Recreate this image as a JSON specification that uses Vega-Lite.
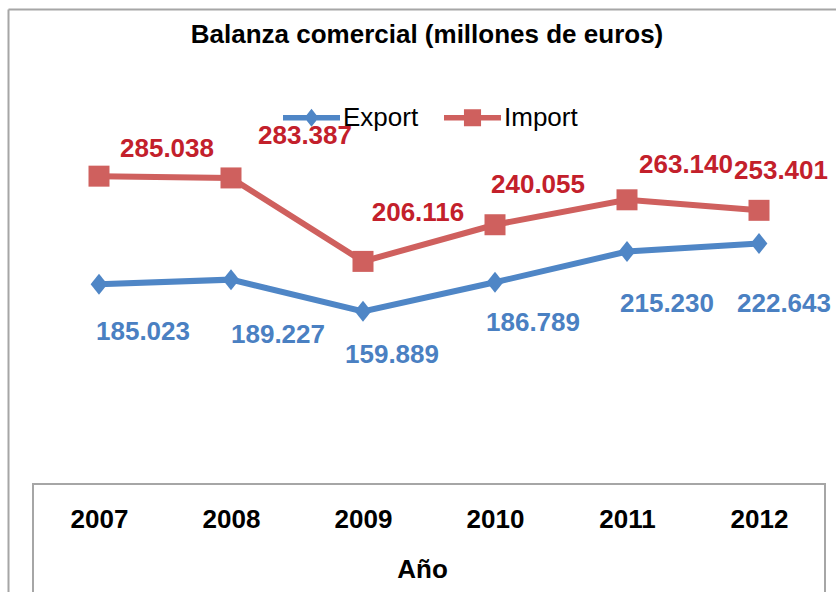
{
  "$schema": "https://vega.github.io/schema/vega-lite/v6.json",
  "width": 828,
  "height": 583,
  "padding": {"left": 8, "top": 9, "right": 0, "bottom": 0},
  "autosize": {"type": "none"},
  "background": "white",
  "config": {
    "view": {"stroke": null},
    "font": "Liberation Sans",
    "text": {"font": "Liberation Sans", "fontSize": 26, "fontWeight": "bold", "align": "center", "baseline": "middle"},
    "locale": {"number": {"decimal": ",", "thousands": ".", "grouping": [3], "currency": ["", " €"]}}
  },
  "title": {
    "text": "Balanza comercial (millones de euros)",
    "frame": "group",
    "anchor": "middle",
    "orient": "top",
    "offset": -33,
    "baseline": "alphabetic",
    "font": "Liberation Sans",
    "fontSize": 26,
    "fontWeight": "bold",
    "color": "black",
    "dx": 5,
    "dy": 27
  },
  "data": {
    "values": [
      {"year": 2007, "series": "Export", "value": 185023},
      {"year": 2008, "series": "Export", "value": 189227},
      {"year": 2009, "series": "Export", "value": 159889},
      {"year": 2010, "series": "Export", "value": 186789},
      {"year": 2011, "series": "Export", "value": 215230},
      {"year": 2012, "series": "Export", "value": 222643},
      {"year": 2007, "series": "Import", "value": 285038},
      {"year": 2008, "series": "Import", "value": 283387},
      {"year": 2009, "series": "Import", "value": 206116},
      {"year": 2010, "series": "Import", "value": 240055},
      {"year": 2011, "series": "Import", "value": 263140},
      {"year": 2012, "series": "Import", "value": 253401}
    ]
  },
  "resolve": {"axis": {"x": "independent", "y": "independent"}},
  "layer": [
    {
      "data": {"values": [{}]},
      "mark": {"type": "rect", "fill": "transparent", "stroke": "#a6a6a6", "strokeWidth": 2},
      "encoding": {
        "x": {"datum": 2006.5, "type": "quantitative", "scale": {"domain": [2006.3106, 2012.5833], "nice": false, "zero": false}, "axis": null},
        "x2": {"datum": 2012.5},
        "y": {"datum": 0, "type": "quantitative", "scale": {"domain": [-100000, 439810], "nice": false, "zero": false}, "axis": null},
        "y2": {"datum": -110000}
      }
    },
    {
      "mark": {"type": "line", "strokeWidth": 6},
      "encoding": {
        "x": {
          "field": "year", "type": "quantitative",
          "scale": {"domain": [2006.3106, 2012.5833], "nice": false, "zero": false},
          "axis": {
            "orient": "bottom", "offset": -108,
            "values": [2007, 2008, 2009, 2010, 2011, 2012],
            "format": "d",
            "domain": false, "ticks": false, "tickSize": 0, "grid": false,
            "labelFont": "Liberation Sans", "labelFontSize": 26, "labelFontWeight": "bold", "labelColor": "black",
            "labelPadding": 22, "labelFlush": false, "labelOverlap": false,
            "title": "Año", "titleFont": "Liberation Sans", "titleFontSize": 26, "titleFontWeight": "bold", "titleColor": "black",
            "titlePadding": 24
          }
        },
        "y": {
          "field": "value", "type": "quantitative",
          "scale": {"domain": [-100000, 439810], "nice": false, "zero": false},
          "axis": {"orient": "left", "domain": true, "domainColor": "#a6a6a6", "domainWidth": 2, "ticks": false, "labels": false, "grid": false, "title": null}
        },
        "color": {
          "field": "series", "type": "nominal",
          "scale": {"domain": ["Export", "Import"], "range": ["#4f86c6", "#cf605e"]},
          "legend": {
            "orient": "none", "legendX": 275, "legendY": 80, "direction": "horizontal",
            "title": null, "padding": 0, "columnPadding": 25, "labelOffset": 3,
            "symbolSize": 3249, "symbolStrokeWidth": 0,
            "labelFont": "Liberation Sans", "labelFontSize": 26, "labelColor": "black", "labelFontWeight": "normal",
            "encode": {
              "symbols": {
                "update": {
                  "shape": {"signal": "datum.value === 'Export' ? 'M-1,-0.1L-0.172,-0.1L0,-0.32L0.172,-0.1L1,-0.1L1,0.1L0.172,0.1L0,0.32L-0.172,0.1L-1,0.1Z' : 'M-1,-0.1L-0.3,-0.1L-0.3,-0.3L0.3,-0.3L0.3,-0.1L1,-0.1L1,0.1L0.3,0.1L0.3,0.3L-0.3,0.3L-0.3,0.1L-1,0.1Z'"},
                  "fill": {"signal": "scale('color', datum.value)"},
                  "stroke": {"value": "transparent"},
                  "strokeWidth": {"value": 0},
                  "size": {"value": 3249},
                  "opacity": {"value": 1}
                }
              }
            }
          }
        }
      }
    },
    {
      "transform": [{"filter": "datum.series === 'Export'"}],
      "mark": {"type": "point", "filled": true, "opacity": 1, "size": 441, "strokeWidth": 0, "shape": "M0,-1L0.8,0L0,1L-0.8,0Z", "color": "#4f86c6"},
      "encoding": {
        "x": {
          "field": "year", "type": "quantitative",
          "scale": {"domain": [2006.3106, 2012.5833], "nice": false, "zero": false},
          "axis": {"orient": "top", "domain": true, "domainColor": "#a6a6a6", "domainWidth": 2, "ticks": false, "labels": false, "grid": false, "title": null}
        },
        "y": {"field": "value", "type": "quantitative", "scale": {"domain": [-100000, 439810], "nice": false, "zero": false}, "axis": null}
      }
    },
    {
      "transform": [{"filter": "datum.series === 'Import'"}],
      "mark": {"type": "point", "filled": true, "opacity": 1, "size": 441, "strokeWidth": 0, "shape": "square", "color": "#cf605e"},
      "encoding": {
        "x": {"field": "year", "type": "quantitative", "scale": {"domain": [2006.3106, 2012.5833], "nice": false, "zero": false}, "axis": null},
        "y": {"field": "value", "type": "quantitative", "scale": {"domain": [-100000, 439810], "nice": false, "zero": false}, "axis": null}
      }
    },
    {"transform": [{"filter": "datum.series === 'Export' && datum.year === 2007"}], "mark": {"type": "text", "dx": 44, "dy": 48, "fill": "#4a80c2"}, "encoding": {"x": {"field": "year", "type": "quantitative", "axis": null}, "y": {"field": "value", "type": "quantitative", "axis": null}, "text": {"field": "value", "type": "quantitative", "format": ",.0f"}}},
    {"transform": [{"filter": "datum.series === 'Export' && datum.year === 2008"}], "mark": {"type": "text", "dx": 47, "dy": 55, "fill": "#4a80c2"}, "encoding": {"x": {"field": "year", "type": "quantitative", "axis": null}, "y": {"field": "value", "type": "quantitative", "axis": null}, "text": {"field": "value", "type": "quantitative", "format": ",.0f"}}},
    {"transform": [{"filter": "datum.series === 'Export' && datum.year === 2009"}], "mark": {"type": "text", "dx": 29, "dy": 44, "fill": "#4a80c2"}, "encoding": {"x": {"field": "year", "type": "quantitative", "axis": null}, "y": {"field": "value", "type": "quantitative", "axis": null}, "text": {"field": "value", "type": "quantitative", "format": ",.0f"}}},
    {"transform": [{"filter": "datum.series === 'Export' && datum.year === 2010"}], "mark": {"type": "text", "dx": 38, "dy": 41, "fill": "#4a80c2"}, "encoding": {"x": {"field": "year", "type": "quantitative", "axis": null}, "y": {"field": "value", "type": "quantitative", "axis": null}, "text": {"field": "value", "type": "quantitative", "format": ",.0f"}}},
    {"transform": [{"filter": "datum.series === 'Export' && datum.year === 2011"}], "mark": {"type": "text", "dx": 40, "dy": 52, "fill": "#4a80c2"}, "encoding": {"x": {"field": "year", "type": "quantitative", "axis": null}, "y": {"field": "value", "type": "quantitative", "axis": null}, "text": {"field": "value", "type": "quantitative", "format": ",.0f"}}},
    {"transform": [{"filter": "datum.series === 'Export' && datum.year === 2012"}], "mark": {"type": "text", "dx": 25, "dy": 60, "fill": "#4a80c2"}, "encoding": {"x": {"field": "year", "type": "quantitative", "axis": null}, "y": {"field": "value", "type": "quantitative", "axis": null}, "text": {"field": "value", "type": "quantitative", "format": ",.0f"}}},
    {"transform": [{"filter": "datum.series === 'Import' && datum.year === 2007"}], "mark": {"type": "text", "dx": 68, "dy": -27, "fill": "#c3202b"}, "encoding": {"x": {"field": "year", "type": "quantitative", "axis": null}, "y": {"field": "value", "type": "quantitative", "axis": null}, "text": {"field": "value", "type": "quantitative", "format": ",.0f"}}},
    {"transform": [{"filter": "datum.series === 'Import' && datum.year === 2008"}], "mark": {"type": "text", "dx": 74, "dy": -42, "fill": "#c3202b"}, "encoding": {"x": {"field": "year", "type": "quantitative", "axis": null}, "y": {"field": "value", "type": "quantitative", "axis": null}, "text": {"field": "value", "type": "quantitative", "format": ",.0f"}}},
    {"transform": [{"filter": "datum.series === 'Import' && datum.year === 2009"}], "mark": {"type": "text", "dx": 55, "dy": -48, "fill": "#c3202b"}, "encoding": {"x": {"field": "year", "type": "quantitative", "axis": null}, "y": {"field": "value", "type": "quantitative", "axis": null}, "text": {"field": "value", "type": "quantitative", "format": ",.0f"}}},
    {"transform": [{"filter": "datum.series === 'Import' && datum.year === 2010"}], "mark": {"type": "text", "dx": 43, "dy": -40, "fill": "#c3202b"}, "encoding": {"x": {"field": "year", "type": "quantitative", "axis": null}, "y": {"field": "value", "type": "quantitative", "axis": null}, "text": {"field": "value", "type": "quantitative", "format": ",.0f"}}},
    {"transform": [{"filter": "datum.series === 'Import' && datum.year === 2011"}], "mark": {"type": "text", "dx": 59, "dy": -35, "fill": "#c3202b"}, "encoding": {"x": {"field": "year", "type": "quantitative", "axis": null}, "y": {"field": "value", "type": "quantitative", "axis": null}, "text": {"field": "value", "type": "quantitative", "format": ",.0f"}}},
    {"transform": [{"filter": "datum.series === 'Import' && datum.year === 2012"}], "mark": {"type": "text", "dx": 22, "dy": -39, "fill": "#c3202b"}, "encoding": {"x": {"field": "year", "type": "quantitative", "axis": null}, "y": {"field": "value", "type": "quantitative", "axis": null}, "text": {"field": "value", "type": "quantitative", "format": ",.0f"}}}
  ]
}
